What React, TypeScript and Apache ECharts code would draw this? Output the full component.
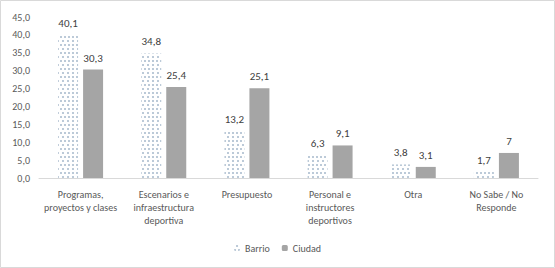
import React, { useEffect, useRef } from "react";
import * as echarts from "echarts";

const categories = [
  "Programas,\nproyectos y clases",
  "Escenarios e\ninfraestructura\ndeportiva",
  "Presupuesto",
  "Personal e\ninstructores\ndeportivos",
  "Otra",
  "No Sabe / No\nResponde",
];
const barrio = [40.1, 34.8, 13.2, 6.3, 3.8, 1.7];
const ciudad = [30.3, 25.4, 25.1, 9.1, 3.1, 7];
const seriesNames = ["Barrio", "Ciudad"];

const FONT = "Carlito, 'Liberation Sans', sans-serif";
const fmt = (v: number) => String(v).replace(".", ",");

export default function App() {
  const ref = useRef<HTMLDivElement>(null);
  useEffect(() => {
    if (!ref.current) return;
    const chart = echarts.init(ref.current, undefined, { renderer: "svg" });
    const dotDecal = {
      symbol: "rect",
      symbolSize: 1,
      color: "#bccad8",
      backgroundColor: "#ffffff",
      dashArrayX: [
        [1.2, 1.8],
        [0, 1.5, 1.2, 0.3],
      ],
      dashArrayY: [1.2, 1.3],
      rotation: 0,
    };
    chart.setOption({
      animation: false,
      backgroundColor: "#ffffff",
      textStyle: { fontFamily: FONT },
      graphic: [
        {
          type: "rect",
          shape: { x: 0.5, y: 0.5, width: 554, height: 267 },
          style: { fill: "none", stroke: "#d9d9d9", lineWidth: 1 },
          silent: true,
        },
      ],
      grid: { left: 39, right: 17, top: 17, bottom: 90 },
      legend: {
        bottom: 10,
        left: "center",
        itemWidth: 6,
        itemHeight: 6,
        itemGap: 12,
        textStyle: { color: "#595959", fontSize: 10, fontFamily: FONT },
        data: seriesNames,
      },
      xAxis: {
        type: "category",
        data: categories,
        axisLine: { lineStyle: { color: "#d9d9d9" } },
        axisTick: { show: false },
        axisLabel: {
          color: "#595959",
          fontSize: 10,
          lineHeight: 13,
          margin: 10,
          interval: 0,
          fontFamily: FONT,
        },
      },
      yAxis: {
        type: "value",
        min: 0,
        max: 45,
        interval: 5,
        splitLine: { show: false },
        axisLine: { show: false },
        axisTick: { show: false },
        axisLabel: {
          color: "#595959",
          fontSize: 10,
          margin: 9,
          fontFamily: FONT,
          formatter: (v: number) => v.toFixed(1).replace(".", ","),
        },
      },
      series: [
        {
          name: seriesNames[0],
          type: "bar",
          data: barrio,
          barWidth: 20,
          barGap: "25%",
          itemStyle: { color: "#ffffff", decal: dotDecal },
          label: {
            show: true,
            position: "top",
            distance: 6,
            color: "#404040",
            fontSize: 11,
            fontFamily: FONT,
            formatter: (p: any) => fmt(p.value),
          },
        },
        {
          name: seriesNames[1],
          type: "bar",
          data: ciudad,
          barWidth: 20,
          itemStyle: { color: "#a5a5a5" },
          label: {
            show: true,
            position: "top",
            distance: 6,
            color: "#404040",
            fontSize: 11,
            fontFamily: FONT,
            formatter: (p: any) => fmt(p.value),
          },
        },
      ],
    });
    return () => chart.dispose();
  }, []);
  return (
    <div
      ref={ref}
      style={{ position: "fixed", left: 0, top: 0, width: 555, height: 268 }}
    />
  );
}
